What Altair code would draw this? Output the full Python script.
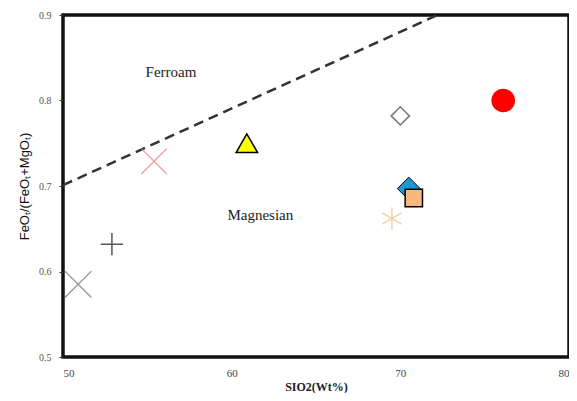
import altair as alt
import pandas as pd

# ---- data ----
sample_ids = ["gray_x", "black_plus", "pink_x", "yellow_tri", "open_diamond",
              "red_circle", "blue_diamond", "orange_square", "orange_star"]
sio2 = [50.9, 52.9, 55.4, 60.9, 70.0, 76.1, 70.5, 70.8, 69.5]
fe_number = [0.585, 0.632, 0.729, 0.750, 0.782, 0.800, 0.697, 0.686, 0.662]

boundary_x = [50.0, 72.2]
boundary_y = [0.701, 0.900]

label_text = ["Ferroam", "Magnesian"]
label_x = [56.4, 61.7]
label_y = [0.833, 0.666]

x_ticks = [50, 60, 70, 80]
y_ticks = [0.5, 0.6, 0.7, 0.8, 0.9]

pts = pd.DataFrame({"id": sample_ids, "x": sio2, "y": fe_number})
line_df = pd.DataFrame({"x": boundary_x, "y": boundary_y})
lab_df = pd.DataFrame({"t": label_text, "x": label_x, "y": label_y})

W, H = 506, 342
xs = alt.Scale(domain=[50, 80], nice=False, zero=False)
ys = alt.Scale(domain=[0.5, 0.9], nice=False, zero=False)

X = alt.X("x:Q", scale=xs, title="SIO2(Wt%)",
          axis=alt.Axis(values=x_ticks, format="d", grid=False, domain=False,
                        tickSize=0, labelPadding=10, labelFont="Liberation Serif",
                        labelFontSize=11, labelColor="#444",
                        titleFont="Liberation Serif", titleFontWeight="bold",
                        titleFontSize=12, titleColor="#222", titlePadding=3))
Y = alt.Y("y:Q", scale=ys, title="FeOₜ/(FeOₜ+MgOₜ)",
          axis=alt.Axis(values=y_ticks, format=".1f", grid=False, domain=False,
                        tickSize=4, tickColor="#333", labelPadding=8,
                        labelFont="Liberation Serif", labelFontSize=10,
                        labelColor="#555", titleFont="Liberation Sans",
                        titleFontWeight="normal", titleFontSize=13,
                        titleColor="#111", titlePadding=7))

base = alt.Chart(pts)

def pick(i):
    return base.transform_filter(alt.datum.id == sample_ids[i])

x_path = "M-1,-1L1,1M1,-1L-1,1"
plus_path = "M-1,0L1,0M0,-1L0,1"
star_path = "M0,-1L0,1M-0.87,-0.5L0.87,0.5M-0.87,0.5L0.87,-0.5"

layers = [
    alt.Chart(line_df).mark_line(color="#333", strokeWidth=2.5, strokeDash=[10, 6]).encode(
        x=X, y=Y),
    pick(0).mark_point(shape=x_path, filled=False, color="#666", size=700, strokeWidth=1.3).encode(x=X, y=Y),
    pick(1).mark_point(shape=plus_path, filled=False, color="#111", size=500, strokeWidth=1.5).encode(x=X, y=Y),
    pick(2).mark_point(shape=x_path, filled=False, color="#f07878", size=650, strokeWidth=1.3).encode(x=X, y=Y),
    pick(3).mark_point(shape="triangle-up", filled=True, fill="#ffff00", stroke="#000",
                       strokeWidth=1.5, size=460, opacity=1).encode(x=X, y=Y),
    pick(4).mark_point(shape="diamond", filled=True, fill="white", stroke="#777",
                       strokeWidth=1.5, size=330, opacity=1).encode(x=X, y=Y),
    pick(5).mark_point(shape="circle", filled=True, color="#ff0000", size=560, opacity=1).encode(x=X, y=Y),
    pick(6).mark_point(shape="diamond", filled=True, fill="#1f97d4", stroke="#000",
                       strokeWidth=1, size=520, opacity=1).encode(x=X, y=Y),
    pick(7).mark_point(shape="square", filled=True, fill="#f9b87c", stroke="#000",
                       strokeWidth=1.5, size=300, opacity=1).encode(x=X, y=Y),
    pick(8).mark_point(shape=star_path, filled=False, color="#f0c080", size=500, strokeWidth=1.5).encode(x=X, y=Y),
    alt.Chart(lab_df).mark_text(font="Liberation Serif", fontSize=15, color="#222").encode(
        x=X, y=Y, text="t:N"),
]

chart = alt.layer(*layers).properties(
    width=W, height=H,
    autosize=alt.AutoSizeParams(type="none"),
    padding={"left": 55, "top": 7, "right": 0, "bottom": 36},
    background="white",
).configure_view(stroke="#111", strokeWidth=3.5)

chart.save("out.html", embed_options={"renderer": "svg", "actions": False})
